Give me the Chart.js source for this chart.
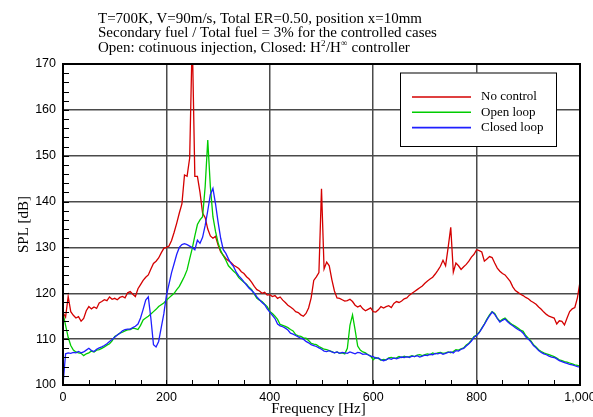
<!DOCTYPE html>
<html>
<head>
<meta charset="utf-8">
<script src="https://cdn.jsdelivr.net/npm/chart.js@4.4.1/dist/chart.umd.min.js"></script>
<style>
  html, body { margin: 0; padding: 0; background: #fff; }
  #wrap { width: 593px; height: 417px; position: relative; }
</style>
</head>
<body>
<div id="wrap"><canvas id="spl-chart"></canvas></div>
<script>
// Frequency grid [Hz], 5 Hz step
const freq = Array.from({ length: 201 }, (_, i) => i * 5)

// SPL [dB], one value per 5 Hz
const noControl = [
  115.8, 114.8, 119.3, 116.0, 115.2, 114.6, 114.9, 113.9, 114.5, 116.2, // 0
  117.1, 116.6, 117.0, 116.7, 117.9, 118.2, 118.6, 118.4, 119.2, 118.7, // 50
  118.9, 118.6, 119.1, 119.3, 119.0, 120.1, 120.4, 119.8, 119.3, 121.0, // 100
  121.9, 122.8, 123.5, 124.0, 125.3, 126.5, 127.0, 127.7, 128.8, 129.8, // 150
  130.0, 130.3, 131.5, 133.3, 135.3, 137.5, 139.5, 145.8, 145.5, 149.5, // 200
  176.0, 145.5, 145.5, 142.0, 137.5, 136.5, 134.0, 132.5, 132.0, 132.4, // 250
  130.5, 129.0, 128.3, 127.6, 127.1, 126.7, 126.1, 125.8, 125.4, 124.7, // 300
  124.3, 123.6, 123.1, 122.4, 121.5, 120.8, 120.5, 120.0, 120.2, 119.6, // 350
  119.7, 119.3, 119.5, 118.9, 119.2, 118.5, 118.0, 117.4, 117.0, 116.6, // 400
  116.0, 115.8, 115.3, 115.0, 115.6, 116.8, 119.0, 122.8, 123.6, 124.5, // 450
  142.8, 125.3, 126.8, 126.0, 123.0, 120.5, 119.0, 118.9, 118.6, 118.3, // 500
  118.4, 118.7, 118.2, 117.4, 117.0, 117.3, 116.6, 116.2, 116.5, 116.8, // 550
  116.0, 115.9, 116.4, 117.1, 116.8, 117.1, 117.3, 116.9, 117.8, 118.2, // 600
  118.0, 118.3, 118.8, 119.0, 119.6, 120.0, 120.4, 120.8, 121.2, 121.6, // 650
  122.2, 122.7, 123.1, 123.5, 124.2, 125.0, 125.9, 127.2, 126.0, 130.0, // 700
  134.4, 124.6, 126.6, 126.0, 125.2, 125.8, 126.3, 127.0, 127.9, 128.5, // 750
  129.5, 129.3, 129.0, 127.0, 127.5, 128.0, 127.8, 126.6, 125.5, 124.8, // 800
  124.3, 124.0, 123.3, 122.6, 121.4, 120.6, 120.2, 119.8, 119.5, 119.1, // 850
  118.8, 118.3, 118.0, 117.6, 117.0, 116.5, 115.9, 115.4, 115.0, 114.8, // 900
  114.6, 113.3, 114.0, 113.9, 113.1, 114.6, 116.0, 116.6, 116.9, 119.0, // 950
  122.5,
]

const openLoop = [
  115.7, 113.0, 110.4, 108.6, 107.6, 107.2, 107.0, 106.9, 106.4, 106.8, // 0
  107.0, 107.4, 107.2, 107.6, 107.7, 108.0, 108.3, 108.7, 109.0, 109.6, // 50
  110.6, 110.9, 111.3, 111.5, 111.8, 112.0, 112.1, 112.4, 112.3, 112.1, // 100
  113.0, 114.2, 114.6, 115.0, 115.5, 116.0, 116.5, 117.1, 117.5, 117.9, // 150
  118.5, 119.0, 119.5, 120.0, 120.8, 121.5, 122.6, 123.7, 125.1, 127.5, // 200
  129.8, 132.5, 135.0, 136.0, 136.7, 143.3, 153.4, 143.3, 136.7, 133.5, // 250
  131.0, 129.3, 128.2, 127.2, 126.0, 125.4, 124.8, 124.3, 123.4, 122.9, // 300
  122.4, 122.0, 121.3, 120.8, 119.8, 118.9, 118.5, 118.2, 117.6, 117.1, // 350
  116.0, 115.6, 115.0, 114.3, 113.2, 113.0, 112.8, 112.5, 112.1, 111.8, // 400
  111.0, 110.7, 110.6, 110.3, 110.2, 109.7, 109.1, 108.9, 108.8, 108.4, // 450
  108.1, 107.8, 107.7, 107.5, 107.3, 107.0, 107.2, 106.9, 107.0, 106.8, // 500
  108.0, 113.0, 115.3, 112.0, 108.5, 107.6, 107.2, 107.0, 106.6, 106.3, // 550
  105.5, 106.0, 105.8, 105.4, 105.6, 105.5, 105.9, 106.0, 105.8, 105.9, // 600
  106.2, 106.0, 106.3, 106.1, 106.2, 106.4, 106.2, 106.5, 106.6, 106.4, // 650
  106.6, 106.8, 106.6, 107.0, 106.8, 107.0, 107.1, 106.9, 107.0, 107.2, // 700
  107.0, 107.3, 107.7, 107.6, 107.9, 108.1, 108.7, 109.1, 109.8, 110.6, // 750
  110.9, 111.5, 112.4, 113.3, 114.4, 115.3, 116.0, 115.6, 114.6, 113.9, // 800
  114.3, 114.6, 114.0, 113.5, 113.1, 112.8, 112.4, 112.0, 111.7, 110.8, // 850
  110.2, 109.6, 108.8, 108.3, 107.7, 107.3, 107.0, 106.8, 106.6, 106.4, // 900
  106.2, 105.9, 105.5, 105.3, 105.1, 105.0, 104.8, 104.6, 104.4, 104.3, // 950
  104.1,
]

const closedLoop = [
  100.0, 106.8, 107.0, 106.9, 107.1, 107.0, 107.3, 107.0, 107.2, 107.6, // 0
  108.0, 107.5, 107.3, 107.8, 108.1, 108.3, 108.6, 109.0, 109.5, 109.9, // 50
  110.4, 110.9, 111.3, 111.8, 112.1, 112.2, 112.2, 112.5, 112.8, 113.3, // 100
  114.6, 116.5, 118.5, 119.2, 114.5, 108.8, 108.3, 109.5, 112.5, 115.5, // 150
  119.5, 122.0, 124.5, 126.5, 128.5, 130.0, 130.6, 130.8, 130.6, 130.3, // 200
  130.0, 129.5, 131.6, 130.9, 132.2, 134.8, 138.0, 141.5, 142.9, 139.5, // 250
  135.5, 132.0, 129.5, 128.7, 127.5, 126.5, 125.8, 124.6, 123.8, 123.2, // 300
  122.5, 121.8, 121.1, 120.6, 120.0, 119.2, 118.6, 118.0, 117.5, 116.6, // 350
  115.9, 115.2, 114.5, 113.3, 112.9, 112.7, 112.4, 112.0, 111.3, 111.1, // 400
  110.8, 110.5, 110.2, 110.0, 109.5, 109.2, 108.8, 108.6, 108.4, 108.1, // 450
  107.8, 107.4, 107.3, 107.5, 107.2, 107.0, 107.2, 106.9, 107.1, 107.0, // 500
  106.9, 107.2, 107.0, 106.8, 107.1, 107.0, 106.7, 106.8, 106.6, 106.3, // 550
  106.2, 105.8, 105.9, 105.5, 105.3, 105.5, 105.8, 105.6, 105.9, 105.7, // 600
  105.9, 106.1, 106.0, 106.2, 106.0, 106.3, 106.2, 106.4, 106.1, 106.3, // 650
  106.5, 106.4, 106.7, 106.6, 106.9, 106.8, 107.0, 106.7, 106.9, 107.1, // 700
  107.2, 107.0, 107.5, 107.4, 107.8, 108.0, 108.5, 109.0, 109.6, 110.4, // 750
  110.8, 111.4, 112.3, 113.2, 114.2, 115.1, 115.9, 115.4, 114.5, 113.7, // 800
  114.1, 114.4, 113.8, 113.3, 112.9, 112.5, 112.1, 111.8, 111.3, 110.5, // 850
  110.0, 109.4, 108.6, 108.1, 107.5, 107.1, 106.8, 106.6, 106.3, 106.1, // 900
  106.0, 105.7, 105.3, 105.1, 104.9, 104.7, 104.5, 104.4, 104.2, 104.0, // 950
  103.9,
]

const xTicks = [0, 200, 400, 600, 800, 1000]
const yTicks = [100, 110, 120, 130, 140, 150, 160, 170]

const seriesNames = ['No control', 'Open loop', 'Closed loop']
const seriesColors = ['#d40000', '#00cc00', '#1f1fff']

const titleLines = [
  'T=700K, V=90m/s, Total ER=0.50, position x=10mm',
  'Secondary fuel / Total fuel = 3% for the controlled cases',
]

const SERIF = "'Liberation Serif', 'Times New Roman', serif"
const SANS = "'Liberation Sans', Arial, sans-serif"

const toPoints = vals => vals.map((v, i) => ({ x: freq[i], y: v }))

// frame, minor ticks, legend box and titles
const decor = {
  id: 'decor',
  afterDraw(chart) {
    const { ctx, chartArea: a, scales: { x, y } } = chart
    ctx.save()

    // minor ticks, inward
    ctx.strokeStyle = '#000'
    ctx.lineWidth = 1
    ctx.beginPath()
    for (let f = 50; f < 1000; f += 50) {
      const px = Math.round(x.getPixelForValue(f)) + 0.5
      ctx.moveTo(px, a.bottom)
      ctx.lineTo(px, a.bottom - 5)
    }
    for (let v = 102; v < 170; v += 2) {
      const py = Math.round(y.getPixelForValue(v)) + 0.5
      ctx.moveTo(a.left, py)
      ctx.lineTo(a.left + 6, py)
    }
    ctx.stroke()

    // frame
    ctx.lineWidth = 2
    ctx.strokeRect(a.left, a.top, a.width, a.height)

    // legend
    const lx = 400, ly = 72.5, lw = 156, lh = 73.5
    ctx.fillStyle = '#fff'
    ctx.fillRect(lx, ly, lw, lh)
    ctx.lineWidth = 1
    ctx.strokeStyle = '#000'
    ctx.strokeRect(lx + 0.5, ly + 0.5, lw, lh)
    ctx.font = '13px ' + SERIF
    ctx.textBaseline = 'middle'
    ctx.textAlign = 'left'
    seriesNames.forEach((name, i) => {
      const yy = 97 + i * 15.3
      ctx.strokeStyle = seriesColors[i]
      ctx.lineWidth = 1.6
      ctx.beginPath()
      ctx.moveTo(412, yy)
      ctx.lineTo(471, yy)
      ctx.stroke()
      ctx.fillStyle = '#000'
      ctx.fillText(name, 481, yy)
    })

    // title block
    ctx.fillStyle = '#000'
    ctx.textBaseline = 'alphabetic'
    ctx.font = '15px ' + SERIF
    const tx = 98
    ctx.fillText(titleLines[0], tx, 22.7)
    ctx.fillText(titleLines[1], tx, 37.2)
    let cx = tx
    const parts = [
      ['Open: cotinuous injection, Closed: H', false],
      ['2', true],
      ['/H', false],
      ['\u221E', true],
      [' controller', false],
    ]
    parts.forEach(([t, sup]) => {
      ctx.font = (sup ? '9px ' : '15px ') + SERIF
      ctx.fillText(t, cx, sup ? 45.5 : 51.7)
      cx += ctx.measureText(t).width + (sup ? 0.5 : 0)
    })

    // axis titles
    ctx.font = '15px ' + SERIF
    ctx.textAlign = 'center'
    ctx.fillText('Frequency [Hz]', (a.left + a.right) / 2 - 3, 413)
    ctx.translate(28, (a.top + a.bottom) / 2)
    ctx.rotate(-Math.PI / 2)
    ctx.fillText('SPL [dB]', 0, 0)

    ctx.restore()
  },
}

new Chart(document.getElementById('spl-chart'), {
  type: 'line',
  data: {
    datasets: [
      { label: seriesNames[0], data: toPoints(noControl), borderColor: seriesColors[0], order: 2 },
      { label: seriesNames[1], data: toPoints(openLoop), borderColor: seriesColors[1], order: 1 },
      { label: seriesNames[2], data: toPoints(closedLoop), borderColor: seriesColors[2], order: 0 },
    ],
  },
  options: {
    responsive: true,
    maintainAspectRatio: false,
    animation: false,
    parsing: false,
    layout: { padding: { top: 64, right: 13, left: 0, bottom: 0 } },
    elements: {
      line: { borderWidth: 1.3, tension: 0 },
      point: { radius: 0 },
    },
    plugins: {
      legend: { display: false },
      tooltip: { enabled: false },
    },
    scales: {
      x: {
        type: 'linear',
        min: 0,
        max: 1000,
        afterBuildTicks: s => { s.ticks = xTicks.map(v => ({ value: v })) },
        afterFit: s => { s.height = 32; s.paddingLeft = 0; s.paddingRight = 0 },
        border: { display: false },
        grid: { color: '#4a4a4a', lineWidth: 1.5, drawTicks: false },
        ticks: { color: '#000', padding: 5, font: { family: SANS, size: 12.5 } },
      },
      y: {
        type: 'linear',
        min: 100,
        max: 170,
        afterBuildTicks: s => { s.ticks = yTicks.map(v => ({ value: v })) },
        afterFit: s => { s.width = 63; s.paddingTop = 0; s.paddingBottom = 0 },
        border: { display: false },
        grid: { color: '#4a4a4a', lineWidth: 1.5, drawTicks: false },
        ticks: { color: '#000', padding: 7, font: { family: SANS, size: 12.5 } },
      },
    },
  },
  plugins: [decor],
})
</script>
</body>
</html>
